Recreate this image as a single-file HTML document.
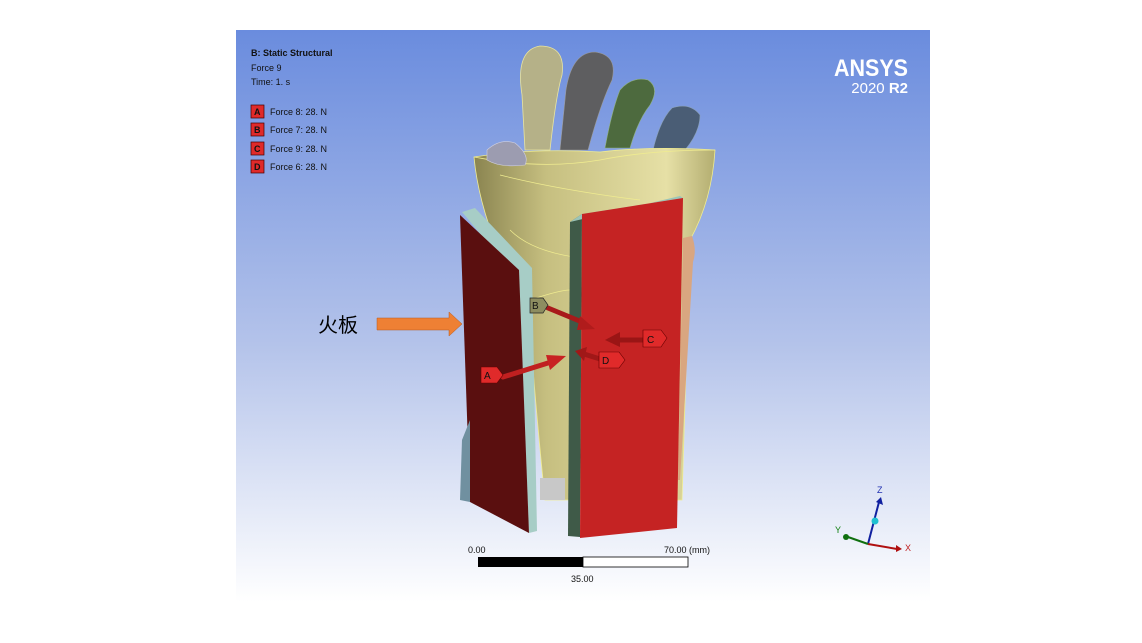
<!DOCTYPE html>
<html><head><meta charset="utf-8"><style>
html,body{margin:0;padding:0;background:#fff;width:1142px;height:643px;overflow:hidden}
svg{display:block}
text{font-family:"Liberation Sans",sans-serif}
</style></head><body>
<svg width="1142" height="643" viewBox="0 0 1142 643" xmlns="http://www.w3.org/2000/svg">
<defs>
<linearGradient id="bg" x1="0" y1="0" x2="0" y2="1">
<stop offset="0" stop-color="#6a8cde"/><stop offset="0.55" stop-color="#b4c3ea"/><stop offset="1" stop-color="#ffffff"/>
</linearGradient>
<linearGradient id="cup" x1="0" y1="0" x2="1" y2="0">
<stop offset="0" stop-color="#8a8450"/><stop offset="0.3" stop-color="#c6bf80"/><stop offset="0.8" stop-color="#e6e0a6"/><stop offset="1" stop-color="#b3ad70"/>
</linearGradient>
<linearGradient id="arr" x1="0" y1="0" x2="0" y2="1">
<stop offset="0" stop-color="#e04040"/><stop offset="1" stop-color="#8a1010"/>
</linearGradient>
</defs>
<rect x="236" y="30" width="694" height="572" fill="url(#bg)"/>
<!-- fingers -->
<path d="M525,150 L522,95 Q515,50 540,46 Q566,46 562,75 Q556,95 550,150 Z" fill="#b5b188" stroke="#e8e4a0" stroke-width="0.8"/>
<path d="M560,150 L566,90 Q572,52 595,52 Q618,55 612,80 Q600,105 588,150 Z" fill="#5e5e60" stroke="#9a9a9a" stroke-width="0.6"/>
<path d="M605,148 Q612,110 620,90 Q632,76 648,80 Q660,88 650,105 Q638,120 630,148 Z" fill="#4d6a3e" stroke="#90b080" stroke-width="0.6"/>
<path d="M653,150 Q660,120 672,108 Q690,102 700,115 Q700,132 685,150 Z" fill="#4a5d75" stroke="#8aa0b8" stroke-width="0.6"/>
<!-- cup -->
<path d="M474,157 Q530,148 600,152 Q650,146 715,150 Q712,200 690,240 L682,500 L545,500 Q535,400 530,330 Q505,300 498,250 Q478,200 474,157 Z" fill="url(#cup)" stroke="#f0ec90" stroke-width="0.8"/>
<path d="M474,157 Q540,170 600,160 Q650,150 715,150" fill="none" stroke="#f0ec90" stroke-width="0.8"/>
<path d="M500,175 Q560,190 640,200 M510,230 Q540,260 620,260 M530,300 Q560,290 570,290" fill="none" stroke="#f0ec90" stroke-width="0.7"/>
<path d="M487,150 Q500,138 515,143 Q530,155 525,165 Q500,168 487,160 Z" fill="#9c9cb0" stroke="#d0d0e0" stroke-width="0.6"/>
<rect x="540" y="478" width="25" height="22" fill="#c8c8c8"/>
<!-- beige strip right -->
<path d="M683,238 L692,236 Q697,250 693,262 L680,480 L678,480 Z" fill="#d9a680"/>
<!-- left panel -->
<path d="M462,212 L475,208 L532,268 L537,531 L529,533 L519,280 Z" fill="#a7cdc6"/>
<path d="M460,215 L519,270 L529,533 L470,502 Z" fill="#5a0f0f"/>
<path d="M462,440 L470,420 L470,502 L460,500 Z" fill="#7090a0"/>
<!-- right panel -->
<path d="M570,222 L582,214 L580,537 L568,536 Z" fill="#3f5a48"/>
<path d="M570,222 L680,196 L683,198 L582,214 Z" fill="#9bc4b8"/>
<path d="M582,214 L683,198 L677,528 L580,538 Z" fill="#c52323"/>
<!-- orange arrow -->
<path d="M377,318 L449,318 L449,312 L462,324 L449,336 L449,330 L377,330 Z" fill="#ee8034" stroke="#b45a20" stroke-width="0.5"/>
<text x="318" y="332" font-family="'Liberation Serif','Noto Serif CJK SC',serif" font-size="20" fill="#000">火板</text>
<!-- force arrows -->
<g stroke-linecap="round">
<line x1="548" y1="308" x2="582" y2="322" stroke="#a81a1a" stroke-width="5"/>
<path d="M580,316 L595,329 L577,330 Z" fill="#b01c1c"/>
<line x1="503" y1="377" x2="548" y2="363" stroke="#c02020" stroke-width="5"/>
<path d="M546,355 L566,356 L550,370 Z" fill="#c82222"/>
<line x1="643" y1="340" x2="620" y2="340" stroke="#9a1515" stroke-width="5"/>
<path d="M620,332 L605,340 L620,347 Z" fill="#9a1515"/>
<line x1="600" y1="359" x2="584" y2="354" stroke="#a01818" stroke-width="5"/>
<path d="M587,347 L575,351 L584,361 Z" fill="#a01818"/>
</g>
<g font-size="10" font-family="'Liberation Sans',sans-serif">
<path d="M530,298 L543,298 L548,305 L543,313 L530,313 Z" fill="#8d8d60" stroke="#222" stroke-width="0.7"/><text x="532" y="309" fill="#111">B</text>
<path d="M481,367 L497,367 L503,375 L497,383 L481,383 Z" fill="#e02a2a" stroke="#600" stroke-width="0.6"/><text x="484" y="379" fill="#111">A</text>
<path d="M643,330 L661,330 L667,338 L661,347 L643,347 Z" fill="#e02a2a" stroke="#600" stroke-width="0.6"/><text x="647" y="343" fill="#111">C</text>
<path d="M599,352 L619,352 L625,360 L619,368 L599,368 Z" fill="#e02a2a" stroke="#600" stroke-width="0.6"/><text x="602" y="364" fill="#111">D</text>
</g>
<!-- legend -->
<g font-family="'Liberation Sans',sans-serif" font-size="9" fill="#111">
<text x="251" y="56" font-weight="bold">B: Static Structural</text>
<text x="251" y="71">Force 9</text>
<text x="251" y="85">Time: 1. s</text>
<g>
<rect x="251" y="105" width="13" height="13" fill="#e02a2a" stroke="#400" stroke-width="0.7"/><text x="254" y="115" font-weight="bold">A</text><text x="270" y="115">Force 8: 28. N</text>
<rect x="251" y="123" width="13" height="13" fill="#e02a2a" stroke="#400" stroke-width="0.7"/><text x="254" y="133" font-weight="bold">B</text><text x="270" y="133">Force 7: 28. N</text>
<rect x="251" y="142" width="13" height="13" fill="#e02a2a" stroke="#400" stroke-width="0.7"/><text x="254" y="152" font-weight="bold">C</text><text x="270" y="152">Force 9: 28. N</text>
<rect x="251" y="160" width="13" height="13" fill="#e02a2a" stroke="#400" stroke-width="0.7"/><text x="254" y="170" font-weight="bold">D</text><text x="270" y="170">Force 6: 28. N</text>
</g>
</g>
<!-- logo -->
<text x="908" y="76" text-anchor="end" font-family="'Liberation Sans',sans-serif" font-size="24" font-weight="bold" fill="#fff" transform="scale(1,1)" textLength="74" lengthAdjust="spacingAndGlyphs">ANSYS</text>
<text x="908" y="93" text-anchor="end" font-family="'Liberation Sans',sans-serif" font-size="15" fill="#fff">2020 <tspan font-weight="bold">R2</tspan></text>
<!-- scale bar -->
<rect x="478" y="557" width="105" height="10" fill="#000"/>
<rect x="583" y="557" width="105" height="10" fill="#fff" stroke="#000" stroke-width="0.8"/>
<g font-family="'Liberation Sans',sans-serif" font-size="9" fill="#111">
<text x="468" y="553">0.00</text>
<text x="664" y="553">70.00 (mm)</text>
<text x="571" y="582">35.00</text>
</g>
<!-- triad -->
<line x1="868" y1="544" x2="879" y2="502" stroke="#1020a0" stroke-width="2"/>
<path d="M876,502 L881,497 L883,505 Z" fill="#1020a0"/>
<circle cx="875" cy="521" r="3.5" fill="#20c0d0"/>
<line x1="868" y1="544" x2="897" y2="549" stroke="#b01010" stroke-width="2"/>
<path d="M896,545 L902,549 L896,552 Z" fill="#b01010"/>
<line x1="868" y1="544" x2="848" y2="537" stroke="#107010" stroke-width="2"/>
<circle cx="846" cy="537" r="3" fill="#107010"/>
<g font-family="'Liberation Sans',sans-serif" font-size="9">
<text x="877" y="493" fill="#2030b0">Z</text>
<text x="905" y="551" fill="#c02020">X</text>
<text x="835" y="533" fill="#108010">Y</text>
</g>
</svg>
</body></html>
